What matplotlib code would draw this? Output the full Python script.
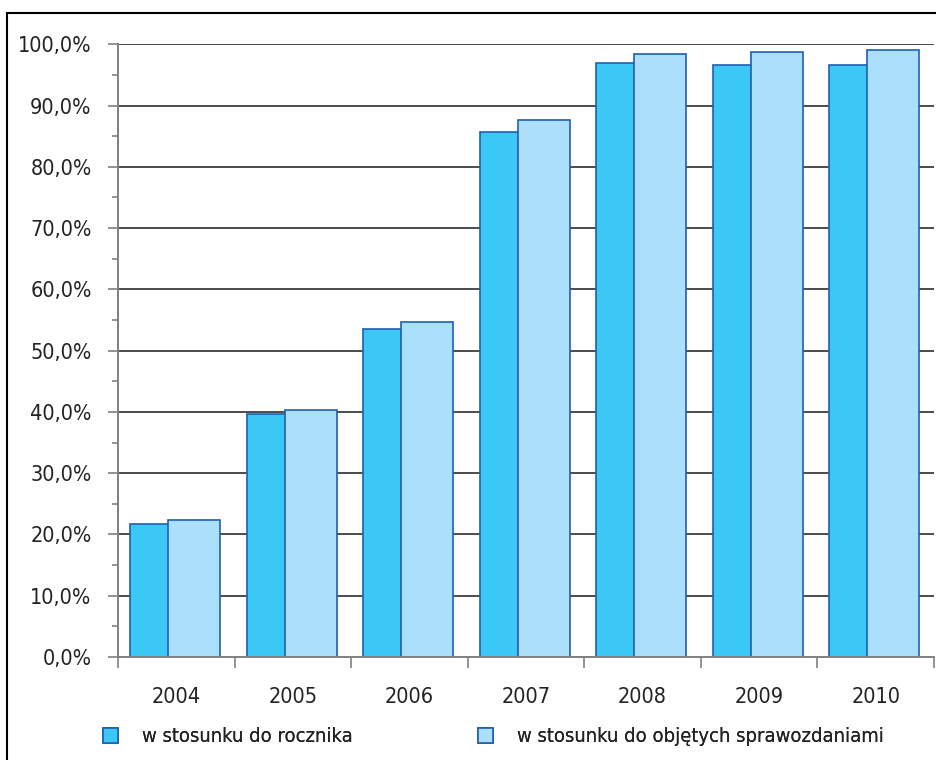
import numpy as np
import matplotlib
matplotlib.use('Agg')
import matplotlib.pyplot as plt
from matplotlib.patches import Patch, Rectangle

plt.rcParams['font.family'] = ['Liberation Sans Narrow', 'DejaVu Sans']
plt.rcParams['font.stretch'] = 'condensed'

# data
years = ['2004', '2005', '2006', '2007', '2008', '2009', '2010']
do_rocznika = [21.7, 39.6, 53.6, 85.7, 97.0, 96.7, 96.7]
do_objetych = [22.3, 40.3, 54.6, 87.7, 98.4, 98.7, 99.0]
series_names = ['w stosunku do rocznika', 'w stosunku do objętych sprawozdaniami']

dark = '#3cc8f4'
light = '#abdffa'
edge = '#1f5faf'
txt = '#222222'
fs = 15.5

fig = plt.figure(figsize=(9.36, 7.6), dpi=100)
ax = fig.add_axes([118 / 936, 1 - 657 / 760, 816 / 936, (657 - 44.3) / 760])

x = np.arange(len(years))
w = 0.445
ax.bar(x - 0.174, do_rocznika, w, color=dark, edgecolor=edge, linewidth=1.2, zorder=3)
ax.bar(x + 0.152, do_objetych, w, color=light, edgecolor=edge, linewidth=1.2, zorder=4)

ax.set_xlim(-0.5, len(years) - 0.5)
ax.set_ylim(0, 100)

# grid lines at every 10 %
for v in range(10, 101, 10):
    ax.axhline(v, color='#1a1a1a', lw=1.1, zorder=1)

ax.set_yticks(np.arange(0, 101, 10))
ax.set_yticklabels(['%d,0%%' % v for v in range(0, 101, 10)])
ax.set_yticks(np.arange(5, 100, 10), minor=True)
ax.set_xticks(np.arange(-0.5, len(years), 1.0))
ax.set_xticklabels([])
for i, y in enumerate(years):
    ax.text(i, -6.5, y, ha='center', va='center', fontsize=fs, color=txt)

ax.tick_params(axis='y', which='major', length=7, width=1.2, color='#808080',
               pad=12, labelsize=fs, labelcolor=txt)
ax.tick_params(axis='y', which='minor', length=4, width=1.2, color='#808080')
ax.tick_params(axis='x', which='major', length=8, width=1.2, color='#808080')

for s in ['top', 'right']:
    ax.spines[s].set_visible(False)
for s in ['left', 'bottom']:
    ax.spines[s].set_color('#808080')
    ax.spines[s].set_linewidth(1.4)
    ax.spines[s].set_zorder(5)

# legend, two entries placed separately
h1 = Patch(facecolor=dark, edgecolor=edge, linewidth=1.2)
h2 = Patch(facecolor=light, edgecolor=edge, linewidth=1.2)
for h, name, x0 in [(h1, series_names[0], 103), (h2, series_names[1], 478)]:
    leg = fig.legend([h], [name], loc='center left',
                     bbox_to_anchor=(x0 / 936, 1 - 737 / 760),
                     frameon=False, borderaxespad=0, borderpad=0,
                     handlelength=0.75, handleheight=0.75, handletextpad=1.2,
                     prop={'size': 14.5})
    for t in leg.get_texts():
        t.set_color(txt)
    fig.add_artist(leg)

# outer frame
fig.add_artist(Rectangle((7 / 936, -0.1), 2, 0.1 + 1 - 13 / 760,
                         transform=fig.transFigure, fill=False,
                         edgecolor='black', lw=1.5))

fig.savefig('out.png', dpi=100)
